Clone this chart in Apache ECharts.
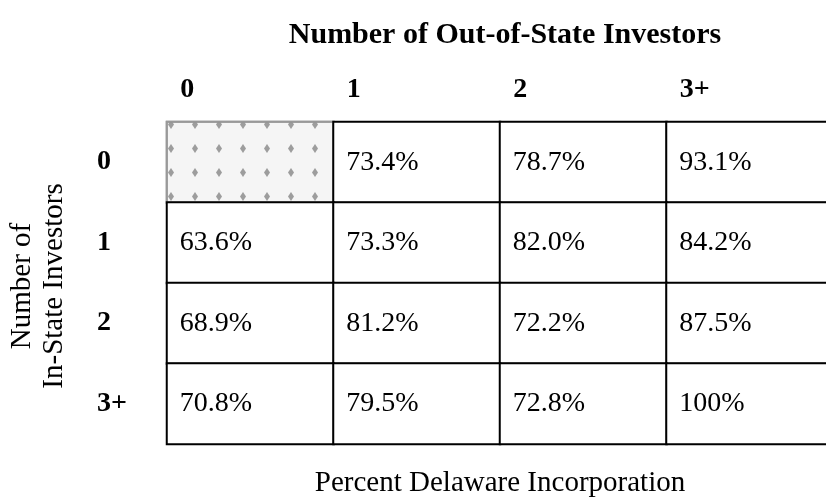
<!DOCTYPE html>
<html>
<head>
<meta charset="utf-8">
<script src="https://cdn.jsdelivr.net/npm/echarts@6/dist/echarts.min.js"></script>
<style>html,body{margin:0;padding:0;background:#fff;}#main{width:826px;height:502px;}</style>
</head>
<body>
<div id="main"></div>
<script>
var outStateCats = ['0', '1', '2', '3+'];
var inStateCats = ['0', '1', '2', '3+'];
var row0 = [null, 73.4, 78.7, 93.1];
var row1 = [63.6, 73.3, 82.0, 84.2];
var row2 = [68.9, 81.2, 72.2, 87.5];
var row3 = [70.8, 79.5, 72.8, 100];
var rows = [row0, row1, row2, row3];

var FONT = '"Liberation Serif", "Times New Roman", serif';
var data = [];
rows.forEach(function (r, yi) {
  r.forEach(function (v, xi) {
    if (v === null) {
      data.push({
        value: [xi, yi, 0],
        itemStyle: {
          color: '#f5f5f5',
          borderColor: '#999',
          decal: {
            symbol: 'diamond',
            symbolSize: 1,
            color: 'rgba(120,120,120,0.7)',
            dashArrayX: [6, 18],
            dashArrayY: [9, 15],
            rotation: 0
          }
        },
        label: { show: false }
      });
    } else {
      data.push({ value: [xi, yi, v] });
    }
  });
});

var chart = echarts.init(document.getElementById('main'));
chart.setOption({
  backgroundColor: '#fff',
  animation: false,
  grid: { left: 167, right: -7, top: 122, bottom: 58, containLabel: false, outerBoundsMode: 'none' },
  xAxis: {
    type: 'category',
    position: 'top',
    data: outStateCats,
    axisLine: { show: false },
    axisTick: { show: false },
    splitLine: { show: false },
    axisLabel: {
      margin: 18,
      formatter: function (v) { return '{a|' + v + '}'; },
      rich: {
        a: { width: 153, align: 'left', padding: [0, 0, 0, 13], fontFamily: FONT, fontWeight: 'bold', fontSize: 28, color: '#000' }
      }
    },
    name: 'Number of Out-of-State Investors',
    nameLocation: 'middle',
    nameGap: 72,
    nameTextStyle: { fontFamily: FONT, fontWeight: 'bold', fontSize: 30, color: '#000', padding: [0, 0, 0, 10] }
  },
  yAxis: {
    type: 'category',
    inverse: true,
    data: inStateCats,
    axisLine: { show: false },
    axisTick: { show: false },
    splitLine: { show: false },
    axisLabel: {
      align: 'left',
      margin: 70,
      padding: [6, 0, 0, 0],
      fontFamily: FONT, fontWeight: 'bold', fontSize: 28, color: '#000'
    },
    name: 'Number of\nIn-State Investors',
    nameLocation: 'middle',
    nameRotate: 90,
    nameGap: 97,
    nameTextStyle: { fontFamily: FONT, fontSize: 29, lineHeight: 32, color: '#000', padding: [0, 6, 0, 0] }
  },
  series: [{
    type: 'heatmap',
    data: data,
    itemStyle: { color: '#fff', borderColor: '#000', borderWidth: 2 },
    emphasis: { disabled: true },
    label: {
      show: true,
      position: 'insideLeft',
      distance: 14,
      fontFamily: FONT,
      fontSize: 28,
      color: '#000',
      formatter: function (p) {
        var v = p.value[2];
        return v === 100 ? '100%' : v.toFixed(1) + '%';
      }
    }
  }],
  graphic: [{
    type: 'text',
    x: 500,
    y: 483,
    style: {
      text: 'Percent Delaware Incorporation',
      align: 'center',
      verticalAlign: 'middle',
      fontFamily: FONT,
      fontSize: 29,
      fill: '#000'
    }
  }]
});
</script>
</body>
</html>
